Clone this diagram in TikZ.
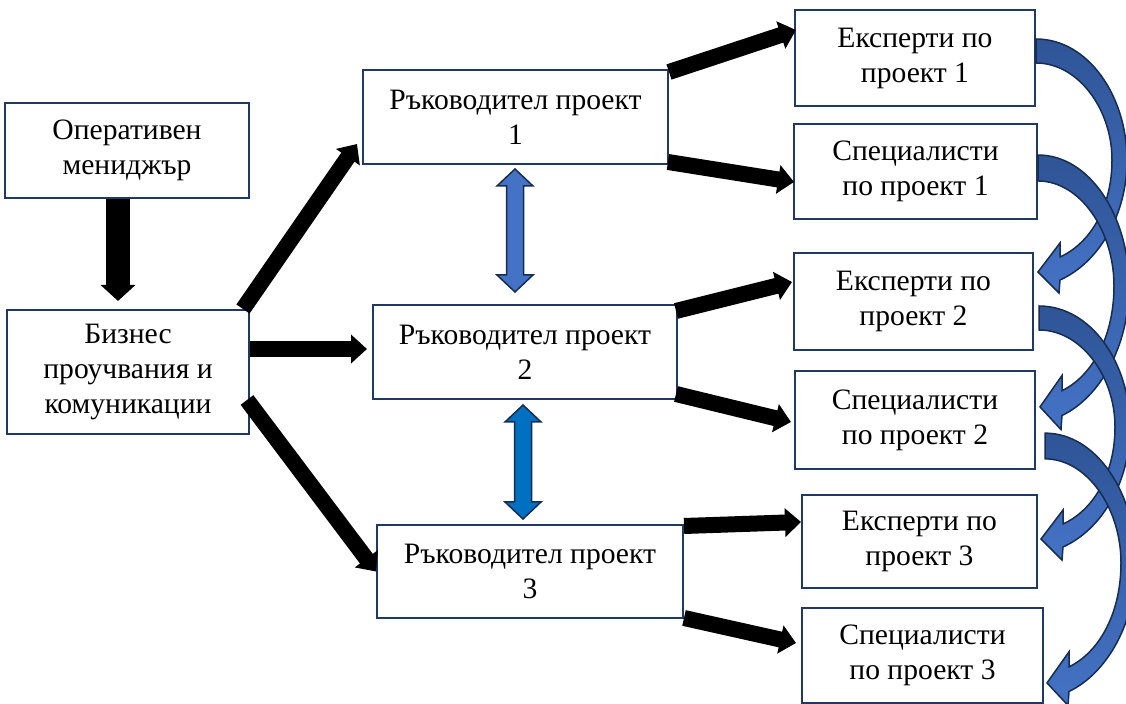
\documentclass[tikz,border=0pt]{standalone}
\usepackage{fontspec}
\setmainfont{Liberation Serif}
\usetikzlibrary{arrows.meta,calc}
\definecolor{navy}{HTML}{1F3864}
\definecolor{deepnavy}{HTML}{172C51}
\definecolor{bandtop}{HTML}{2F5597}
\definecolor{bandend}{HTML}{4472C4}
\definecolor{linkblue}{HTML}{0070C0}
\tikzset{
  card/.style={draw=navy, line width=1pt, fill=white, align=center, inner sep=0pt,
    font=\fontsize{14.8pt}{17.5pt}\selectfont},
  wh/.style 2 args={minimum width=#1*0.5pt, minimum height=#2*0.5pt},
  push/.style={line width=8pt, -{Triangle[length=8pt,width=14pt]}},
  twin/.style={draw=deepnavy, line width=0.75pt, line join=miter},
  pics/swoop/.style={code={
    \shadedraw[draw=deepnavy, line width=0.75pt, top color=bandtop, bottom color=bandend]
      (0,-12) .. controls (52,-12) and (91,45) .. (91,109)
      .. controls (91,165) and (62,212) .. (24,229)
      -- (23,242) -- (2,221) -- (24,192) -- (24,206)
      .. controls (55,192) and (76,155) .. (76,109)
      .. controls (76,58) and (42,12) .. (0,12) -- cycle;
  }}
}
\newcommand\twinarrow[3]{%
  \draw[twin, fill=#3] (#1) -- ($(#1)+(18,17)$) -- ($(#1)+(8.5,17)$)
    -- ($(#2)+(8.5,-17)$) -- ($(#2)+(18,-17)$) -- (#2) -- ($(#2)+(-18,-17)$)
    -- ($(#2)+(-8.5,-17)$) -- ($(#1)+(-8.5,17)$) -- ($(#1)+(-18,17)$) -- cycle;}

\begin{document}
\begin{tikzpicture}[x=0.5pt, y=-0.5pt]
    \useasboundingbox (0,0) rectangle (1126,704);

    % boxes
    \node[card, wh={244}{95}] (om) at (127,150.5) {Оперативен\\мениджър};
    \node[card, wh={242}{124}] (biz) at (128,372) {Бизнес\\проучвания и\\комуникации};
    \node[card, wh={305}{94}] (rp1) at (515.5,117) {Ръководител проект\\1};
    \node[card, wh={304}{94}] (rp2) at (525,352) {Ръководител проект\\2};
    \node[card, wh={306}{93}] (rp3) at (530,571.5) {Ръководител проект\\3};
    \node[card, wh={240}{96}] (e1) at (915,58) {Експерти по\\проект 1};
    \node[card, wh={243}{95}] (s1) at (915.5,171.5) {Специалисти\\по проект 1};
    \node[card, wh={239}{97}] (e2) at (913.5,301.5) {Експерти по\\проект 2};
    \node[card, wh={240}{98}] (s2) at (915,420) {Специалисти\\по проект 2};
    \node[card, wh={235}{93}] (e3) at (919.5,541.5) {Експерти по\\проект 3};
    \node[card, wh={241}{95}] (s3) at (922.5,655.5) {Специалисти\\по проект 3};

    % black arrows
    \draw[push, line width=12pt, -{Triangle[length=8pt,width=17pt]}]
        ($(om.south)+(-9,0)$) -- ($(biz.north)+(-10,-8)$);
    \draw[push] ($(biz.north east)+(-7,0)$) -- ($(rp1.south west)+(-5,-21)$);
    \draw[push] ($(biz.east)+(0,-23)$) -- ($(rp2.west)+(-5,-3)$);
    \draw[push] ($(biz.east)+(-3,28)$) -- (rp3.west);
    \draw[push] ($(rp1.north east)+(0,3)$) -- ($(e1.west)+(2,-28)$);
    \draw[push] ($(rp1.south east)+(-1,-3)$) -- ($(s1.west)+(1,10.5)$);
    \draw[push] ($(rp2.north east)+(-2,7)$) -- ($(e2.west)+(-1,-19.5)$);
    \draw[push] ($(rp2.south east)+(-2,-6)$) -- ($(s2.west)+(-3,2)$);
    \draw[push] ($(rp3.north east)+(0,2)$) -- ($(e3.west)+(0,-19.5)$);
    \draw[push] ($(rp3.south east)+(0,-1)$) -- ($(s3.west)+(-5,-12.5)$);

    % links between leaders
    \coordinate (u1) at ($(rp1.south)+(-0.5,4)$);
    \coordinate (d1) at ($(rp2.north)+(-10,-12)$);
    \coordinate (u2) at ($(rp2.south)+(-2,5)$);
    \coordinate (d2) at ($(rp3.north)+(-7,-5)$);
    \twinarrow{u1}{d1}{bandend}
    \twinarrow{u2}{d2}{linkblue}

    % curved arrows on the right
    \coordinate (c1) at ($(e1.east)+(0,-7)$);
    \coordinate (c2) at ($(s1.east)+(0,-3.5)$);
    \coordinate (c3) at ($(e2.east)+(5,16.5)$);
    \coordinate (c4) at ($(s2.east)+(9,26)$);
    \pic at (c1) {swoop};
    \pic[yscale=1.081] at (c2) {swoop};
    \pic at (c3) {swoop};
    \pic[yscale=1.072] at (c4) {swoop};

\end{tikzpicture}
\end{document}
